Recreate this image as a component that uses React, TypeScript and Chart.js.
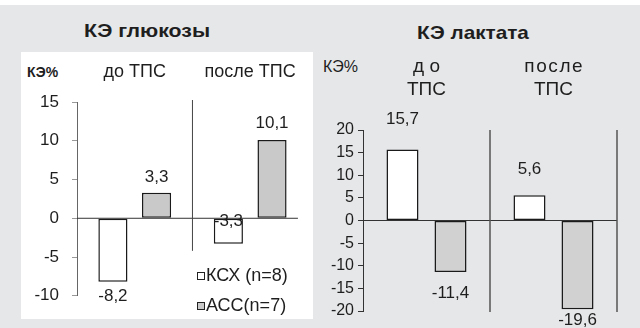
import React, { useEffect, useRef } from "react";
import { Chart, registerables } from "chart.js";

Chart.register(...registerables);

const FONT = "'Liberation Sans', Arial, sans-serif";

// ---- data ----
const glucoseCategories = ["до ТПС", "после ТПС"];
const glucoseKSH = [-8.2, -3.3];
const glucoseASS = [3.3, 10.1];
const glucoseTickMin = -10;
const glucoseTickMax = 15;
const glucoseTickStep = 5;

const lactateCategories = [["д о", "ТПС"], ["п\u200Aо\u200Aс\u200Aл\u200Aе", "ТПС"]];
const lactateKSH = [15.7, 5.6];
const lactateASS = [-11.4, -19.6];
const lactateTickMin = -20;
const lactateTickMax = 20;
const lactateTickStep = 5;

const seriesNames = ["КСХ (n=8)", "АСС(n=7)"];

const fmt = (v: number) => String(v).replace(".", ",");

const decorPlugin = {
  id: "decor",
  beforeDatasetsDraw(chart: any, _a: any, opts: any) {
    const { ctx, chartArea } = chart;
    const xs = chart.scales.x;
    const ys = chart.scales.y;
    ctx.save();
    const y0 = ys.getPixelForValue(0);
    ctx.strokeStyle = opts.zeroColor;
    ctx.lineWidth = 1;
    ctx.beginPath();
    ctx.moveTo(chartArea.left, y0);
    ctx.lineTo(chartArea.right - (opts.zeroEndInset || 0), y0);
    ctx.stroke();
    const p0 = xs.getPixelForValue(0);
    const p1 = xs.getPixelForValue(1);
    const xsList = [(p0 + p1) / 2];
    if (opts.rightEdge) xsList.push(chartArea.right);
    const yTop = chartArea.top + (opts.divTopOffset || 0);
    const yBot = opts.divToValue !== undefined ? ys.getPixelForValue(opts.divToValue) : chartArea.bottom + 1;
    ctx.strokeStyle = opts.divColor;
    ctx.lineWidth = opts.divWidth;
    xsList.forEach((x) => {
      ctx.beginPath();
      ctx.moveTo(x, yTop);
      ctx.lineTo(x, yBot);
      ctx.stroke();
    });
    ctx.restore();
  },
  afterDatasetsDraw(chart: any, _a: any, opts: any) {
    const { ctx } = chart;
    ctx.save();
    ctx.font = opts.labelFont;
    ctx.fillStyle = "#1e1e1e";
    ctx.textAlign = "center";
    ctx.textBaseline = "middle";
    chart.data.datasets.forEach((ds: any, di: number) => {
      chart.getDatasetMeta(di).data.forEach((bar: any, i: number) => {
        ctx.fillText(fmt(ds.data[i]), bar.x, bar.y + opts.labelDy[di][i]);
      });
    });
    if (opts.legend) {
      const L = opts.legend;
      ctx.font = L.font;
      ctx.textAlign = "left";
      chart.data.datasets.forEach((ds: any, di: number) => {
        const top = L.y + di * L.gap;
        ctx.fillStyle = ds.backgroundColor;
        ctx.fillRect(L.x, top, L.box, L.box);
        ctx.strokeStyle = "#222";
        ctx.lineWidth = 1;
        ctx.strokeRect(L.x + 0.5, top + 0.5, L.box - 1, L.box - 1);
        ctx.fillStyle = "#1e1e1e";
        ctx.fillText(ds.label, L.x + L.box + 1, top + L.box / 2 + 0.5);
      });
    }
    ctx.restore();
  },
};

function makeConfig(kind: "glucose" | "lactate"): any {
  const isG = kind === "glucose";
  const grayFill = isG ? "#c9c9c9" : "#d1d1d1";
  return {
    type: "bar",
    data: {
      labels: isG ? glucoseCategories : lactateCategories,
      datasets: [
        {
          label: seriesNames[0],
          data: isG ? glucoseKSH : lactateKSH,
          backgroundColor: "#ffffff",
          borderColor: "#1a1a1a",
          borderWidth: 1.5,
          borderSkipped: false,
        },
        {
          label: seriesNames[1],
          data: isG ? glucoseASS : lactateASS,
          backgroundColor: grayFill,
          borderColor: "#1a1a1a",
          borderWidth: 1.5,
          borderSkipped: false,
        },
      ],
    },
    plugins: [decorPlugin],
    options: {
      responsive: false,
      animation: false,
      devicePixelRatio: 1,
      locale: "en-US",
      layout: { padding: isG ? { top: 0, right: 0, bottom: 15, left: 0 } : { top: 0, right: 23, bottom: 17, left: 0 } },
      datasets: { bar: { barPercentage: 0.667, categoryPercentage: 0.756 } },
      plugins: {
        legend: { display: false },
        title: { display: false },
        tooltip: { enabled: false },
        decor: {
          zeroColor: "#333",
          zeroEndInset: isG ? 10 : 0,
          divColor: isG ? "#444" : "#555",
          divWidth: isG ? 1 : 1.5,
          divTopOffset: isG ? -2 : 0,
          divToValue: isG ? -4.2 : undefined,
          rightEdge: !isG,
          labelFont: `17px ${FONT}`,
          labelDy: isG ? [[14, -23], [-15, -17]] : [[-30, -26], [21, 11]],
          legend: isG ? { x: 176, y: 220, gap: 30, box: 8, font: `18px ${FONT}` } : null,
        },
      },
      scales: {
        x: {
          type: "category",
          position: "top",
          offset: true,
          grid: { display: false, drawTicks: false },
          border: { display: false },
          ticks: {
            color: "#1e1e1e",
            padding: isG ? 19.2 : 28.3,
            maxRotation: 0,
            autoSkip: false,
            font: isG ? { family: FONT, size: 18, lineHeight: 1.2 } : { family: FONT, size: 19, lineHeight: 1.23 },
          },
          afterFit: (s: any) => {
            s.height = isG ? 50 : 78;
          },
        },
        y: {
          min: isG ? glucoseTickMin : lactateTickMin,
          max: isG ? glucoseTickMax : lactateTickMax,
          ticks: {
            stepSize: isG ? glucoseTickStep : lactateTickStep,
            color: "#1e1e1e",
            padding: isG ? 13 : 4,
            font: { family: FONT, size: isG ? 17 : 16 },
          },
          grid: { drawOnChartArea: false, drawTicks: true, tickLength: 5, color: isG ? "#999" : "#333" },
          border: { display: true, color: isG ? "#666" : "#333", width: 1 },
          afterFit: (s: any) => {
            s.width = isG ? 56 : 50;
          },
        },
      },
    },
  };
}

function BarCanvas(props: { kind: "glucose" | "lactate"; style: any; w: number; h: number }) {
  const ref = useRef<HTMLCanvasElement | null>(null);
  useEffect(() => {
    if (!ref.current) return;
    const chart = new Chart(ref.current, makeConfig(props.kind));
    return () => chart.destroy();
  }, [props.kind]);
  return <canvas ref={ref} width={props.w} height={props.h} style={{ position: "absolute", ...props.style }} />;
}

export default function App() {
  const textBase: any = { position: "absolute", fontFamily: FONT, color: "#1e1e1e", whiteSpace: "nowrap" };
  return (
    <div
      style={{
        position: "fixed",
        left: 0,
        top: 0,
        width: 640,
        height: 328,
        overflow: "hidden",
        background: "#e6e7e8",
      }}
    >
      <div style={{ position: "absolute", left: 0, top: 0, width: 640, height: 5, background: "#ffffff" }} />
      <div style={{ position: "absolute", left: 21, top: 52, width: 292, height: 267, background: "#ffffff" }} />
      <div
        style={{
          ...textBase,
          left: 47,
          top: 21,
          width: 200,
          textAlign: "center",
          fontSize: 18.5,
          lineHeight: "20px",
          fontWeight: "bold",
          transform: "scaleX(1.15)",
        }}
      >
        КЭ глюкозы
      </div>
      <div
        style={{
          ...textBase,
          left: 373,
          top: 23,
          width: 200,
          textAlign: "center",
          fontSize: 18.5,
          lineHeight: "20px",
          fontWeight: "bold",
          transform: "scaleX(1.12)",
        }}
      >
        КЭ лактата
      </div>
      <div style={{ ...textBase, left: 27, top: 64, fontSize: 14, lineHeight: "16px", fontWeight: "bold" }}>КЭ%</div>
      <div style={{ ...textBase, left: 323, top: 58, fontSize: 16, lineHeight: "18px" }}>КЭ%</div>
      <BarCanvas kind="glucose" w={294} h={267} style={{ left: 21, top: 52 }} />
      <BarCanvas kind="lactate" w={327} h={276} style={{ left: 313, top: 52 }} />
    </div>
  );
}
